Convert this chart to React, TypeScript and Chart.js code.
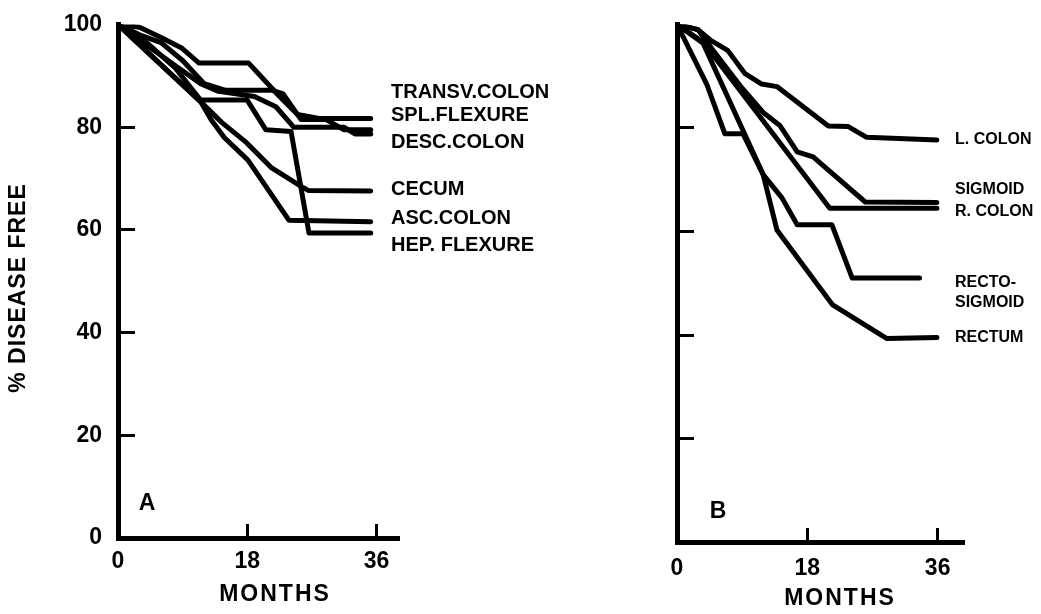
import React, { useEffect, useRef } from 'react';
import { Chart, registerables } from 'chart.js';

Chart.register(...registerables);

// ---------- Axis ticks ----------
const monthTicks = [0, 18, 36];
const pctTicks = [0, 20, 40, 60, 80, 100];
const innerMonthTicks = [18, 36];
const innerPctTicks = [20, 40, 60, 80];

// ---------- Panel A (months, % disease free) ----------
const transvColonMonths = [0, 3, 6, 8.8, 11.3, 18.2, 22.5, 25, 28, 35.2];
const transvColonPct = [100, 99.5, 97.5, 95.5, 92.5, 92.5, 86, 82.5, 81.7, 81.7];

const splFlexureMonths = [0, 3, 6, 9, 12, 15, 21.5, 23, 25.5, 29, 31.5, 35.2];
const splFlexurePct = [100, 98, 96.5, 93, 88.5, 87.2, 87.2, 86.5, 81.5, 81.5, 79.5, 79.5];

const descColonMonths = [0, 4, 8, 11.5, 14, 19, 22, 24.5, 31.5, 33, 35.2];
const descColonPct = [100, 96, 92, 88.5, 87, 86, 84, 80, 80, 78.7, 78.7];

const cecumMonths = [0, 11.5, 14.4, 17.9, 21.3, 25.5, 26.5, 35.2];
const cecumPct = [100, 85, 81, 77, 72.2, 68.5, 67.7, 67.6];

const ascColonMonths = [0, 11.5, 13, 14.8, 18.1, 23.8, 35.2];
const ascColonPct = [100, 85, 81.4, 78, 73.6, 61.9, 61.6];

const hepFlexureMonths = [0, 4, 8, 11.5, 18, 20.6, 24.1, 26.6, 35.2];
const hepFlexurePct = [100, 96.5, 91.5, 85.3, 85.3, 79.5, 79.2, 59.4, 59.4];

// ---------- Panel B ----------
const lColonMonths = [0, 2.9, 4.6, 7.0, 9.4, 11.7, 13.8, 20.9, 23.6, 26.2, 35.9];
const lColonPct = [100, 99, 97, 95, 90.5, 88.5, 88, 80.4, 80.3, 78.2, 77.7];

const sigmoidMonths = [0, 2.9, 5, 8.7, 11.9, 14.2, 16.6, 18.8, 26, 35.9];
const sigmoidPct = [100, 99, 95, 88.2, 83, 80.5, 75.4, 74.4, 65.7, 65.6];

const rColonMonths = [0, 3.6, 21.1, 35.9];
const rColonPct = [100, 96.6, 64.5, 64.5];

const rectoSigmoidMonths = [0, 3.6, 11.9, 14.5, 16.6, 21.4, 24.2, 33.5];
const rectoSigmoidPct = [100, 96.4, 71, 66.5, 61.3, 61.3, 51, 51];

const rectumMonths = [0, 4.1, 6.6, 9.1, 11.9, 13.8, 21.5, 29, 35.9];
const rectumPct = [100, 88.5, 78.9, 78.9, 71, 60.3, 45.8, 39.3, 39.5];

const panelASeries = [
  { name: 'TRANSV.COLON', months: transvColonMonths, pct: transvColonPct },
  { name: 'SPL.FLEXURE', months: splFlexureMonths, pct: splFlexurePct },
  { name: 'DESC.COLON', months: descColonMonths, pct: descColonPct },
  { name: 'CECUM', months: cecumMonths, pct: cecumPct },
  { name: 'ASC.COLON', months: ascColonMonths, pct: ascColonPct },
  { name: 'HEP. FLEXURE', months: hepFlexureMonths, pct: hepFlexurePct },
];

const panelBSeries = [
  { name: 'L. COLON', months: lColonMonths, pct: lColonPct },
  { name: 'SIGMOID', months: sigmoidMonths, pct: sigmoidPct },
  { name: 'R. COLON', months: rColonMonths, pct: rColonPct },
  { name: 'RECTO-SIGMOID', months: rectoSigmoidMonths, pct: rectoSigmoidPct },
  { name: 'RECTUM', months: rectumMonths, pct: rectumPct },
];

// Annotation texts (positions kept in layout below)
const panelALabels = ['TRANSV.COLON', 'SPL.FLEXURE', 'DESC.COLON', 'CECUM', 'ASC.COLON', 'HEP. FLEXURE'];
const panelBLabels = ['L. COLON', 'SIGMOID', 'R. COLON', 'RECTO-', 'SIGMOID', 'RECTUM'];

const FONT = '"Liberation Sans", Arial, sans-serif';
const W = 1041;
const H = 614;

type PanelLayout = {
  series: { name: string; months: number[]; pct: number[] }[];
  xMax: number;
  yAxisWidth: number;
  xAxisHeight: number;
  padTop: number;
  padRight: number;
  showYLabels: boolean;
  xTickPadding: number;
  letter: string;
  letterPos: [number, number];
  monthsPos: [number, number];
  labels: string[];
  labelX: number;
  labelYs: number[];
  labelSize: number;
  showYTitle: boolean;
};

const layoutA: PanelLayout = {
  series: panelASeries,
  xMax: 39,
  yAxisWidth: 118,
  xAxisHeight: 76,
  padTop: 24.6,
  padRight: W - 398,
  showYLabels: true,
  xTickPadding: 24,
  letter: 'A',
  letterPos: [147, 504],
  monthsPos: [275, 595],
  labels: panelALabels,
  labelX: 391,
  labelYs: [92, 115, 142, 189, 218, 245],
  labelSize: 20,
  showYTitle: true,
};

const layoutB: PanelLayout = {
  series: panelBSeries,
  xMax: 39.5,
  yAxisWidth: 677,
  xAxisHeight: 72,
  padTop: 24.5,
  padRight: W - 963,
  showYLabels: false,
  xTickPadding: 27,
  letter: 'B',
  letterPos: [718, 512],
  monthsPos: [840, 599],
  labels: panelBLabels,
  labelX: 955,
  labelYs: [140, 190, 212, 283, 303, 338],
  labelSize: 16,
  showYTitle: false,
};

function textPlugin(p: PanelLayout) {
  return {
    id: 'panelText' + p.letter,
    afterDraw(chart: any) {
      const ctx = chart.ctx as CanvasRenderingContext2D;
      ctx.save();
      ctx.fillStyle = '#000';
      ctx.textBaseline = 'middle';
      // series labels
      ctx.textAlign = 'left';
      ctx.font = `bold ${p.labelSize}px ${FONT}`;
      p.labels.forEach((t, i) => ctx.fillText(t, p.labelX, p.labelYs[i]));
      // panel letter
      ctx.textAlign = 'center';
      ctx.font = `bold 23px ${FONT}`;
      ctx.fillText(p.letter, p.letterPos[0], p.letterPos[1]);
      // x title
      ctx.font = `bold 23px ${FONT}`;
      (ctx as any).letterSpacing = '2px';
      ctx.fillText('MONTHS', p.monthsPos[0], p.monthsPos[1]);
      // y title
      if (p.showYTitle) {
        ctx.translate(19, 288);
        ctx.rotate(-Math.PI / 2);
        ctx.font = `bold 23px ${FONT}`;
        (ctx as any).letterSpacing = '1px';
        ctx.fillText('% DISEASE FREE', 0, 0);
      }
      ctx.restore();
    },
  };
}

function makeConfig(p: PanelLayout): any {
  const tickFont = { family: FONT, size: 23, weight: 'bold' as const };
  return {
    type: 'line',
    data: {
      datasets: p.series.map((s) => ({
        label: s.name,
        data: s.months.map((m, i) => ({ x: m, y: s.pct[i] })),
        borderColor: '#000',
        backgroundColor: '#000',
        borderWidth: 5,
        pointRadius: 0,
        tension: 0,
        fill: false,
        borderJoinStyle: 'round',
        borderCapStyle: 'round',
      })),
    },
    options: {
      responsive: false,
      animation: false,
      devicePixelRatio: 1,
      layout: { padding: { left: 0, top: p.padTop, right: p.padRight, bottom: 0 } },
      plugins: { legend: { display: false }, tooltip: { enabled: false }, title: { display: false } },
      scales: {
        x: {
          type: 'linear',
          min: 0,
          max: p.xMax,
          afterBuildTicks: (ax: any) => {
            ax.ticks = monthTicks.map((v) => ({ value: v }));
          },
          afterFit: (ax: any) => {
            ax.height = p.xAxisHeight;
            ax.paddingLeft = 0;
            ax.paddingRight = 0;
          },
          border: { display: true, color: '#000', width: 5 },
          grid: {
            display: true,
            drawOnChartArea: false,
            drawTicks: true,
            tickLength: -14,
            lineWidth: 3,
            color: (c: any) => (c.tick && innerMonthTicks.includes(c.tick.value) ? '#000' : 'rgba(0,0,0,0)'),
          },
          ticks: {
            color: '#000',
            font: tickFont,
            padding: p.xTickPadding,
            maxRotation: 0,
            autoSkip: false,
            callback: (v: any) => String(v),
          },
        },
        y: {
          type: 'linear',
          min: 0,
          max: 100,
          afterBuildTicks: (ax: any) => {
            ax.ticks = pctTicks.map((v) => ({ value: v }));
          },
          afterFit: (ax: any) => {
            ax.width = p.yAxisWidth;
            ax.paddingTop = 0;
            ax.paddingBottom = 0;
          },
          border: { display: true, color: '#000', width: 5 },
          grid: {
            display: true,
            drawOnChartArea: false,
            drawTicks: true,
            tickLength: -17,
            lineWidth: 3,
            color: (c: any) => (c.tick && innerPctTicks.includes(c.tick.value) ? '#000' : 'rgba(0,0,0,0)'),
          },
          ticks: {
            display: p.showYLabels,
            color: '#000',
            font: tickFont,
            padding: 33,
            autoSkip: false,
            callback: (v: any) => String(v),
          },
        },
      },
    },
    plugins: [textPlugin(p)],
  };
}

function Panel({ p }: { p: PanelLayout }) {
  const ref = useRef<HTMLCanvasElement | null>(null);
  useEffect(() => {
    if (!ref.current) return;
    const chart = new Chart(ref.current, makeConfig(p));
    return () => chart.destroy();
  }, [p]);
  return (
    <canvas
      ref={ref}
      width={W}
      height={H}
      style={{ position: 'absolute', left: 0, top: 0, width: W, height: H }}
    />
  );
}

export default function App() {
  return (
    <div style={{ position: 'fixed', left: 0, top: 0, width: W, height: H, background: '#fff' }}>
      <Panel p={layoutA} />
      <Panel p={layoutB} />
    </div>
  );
}
